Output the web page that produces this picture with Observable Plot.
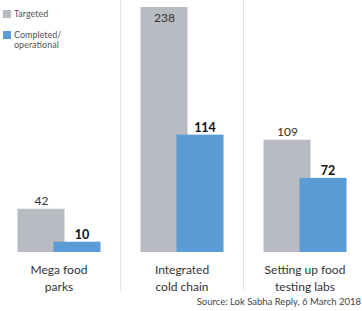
<!DOCTYPE html>
<html><head><meta charset="utf-8">
<script src="https://cdn.jsdelivr.net/npm/d3@7"></script>
<script src="https://cdn.jsdelivr.net/npm/@observablehq/plot@0.6"></script>
<style>
body{margin:0;background:#fff;font-family:Lato,"Open Sans",sans-serif;}
#wrap{position:relative;width:362px;height:311px;overflow:hidden;}
#wrap svg{position:absolute;left:0;top:0;}
.legend{position:absolute;left:3px;font-size:9px;color:#555;line-height:10px;}
.legend .sw{position:absolute;left:0;top:1px;width:8px;height:8px;}
.legend .lb{position:absolute;left:11px;top:0;white-space:nowrap;}
#source{position:absolute;right:1px;top:296px;font-size:9.5px;color:#444;white-space:nowrap;}
</style></head><body><div id="wrap"></div>
<script>
const categories = ["Mega food\nparks", "Integrated\ncold chain", "Setting up food\ntesting labs"];
const series = ["Targeted", "Completed/\noperational"];
const targeted = [42, 238, 109];
const completed = [10, 114, 72];
const colors = ["#b9bbc2", "#5b9bd6"];
const sourceText = "Source: Lok Sabha Reply, 6 March 2018";

const data = categories.flatMap((c, i) => [
  {category: c, series: series[0], value: targeted[i]},
  {category: c, series: series[1], value: completed[i]}
]);
const tData = data.filter(d => d.series === series[0]);
const cData = data.filter(d => d.series === series[1]);
const maxV = d3.max(targeted);

const plot = Plot.plot({
  width: 362, height: 311,
  marginTop: 7, marginBottom: 59, marginLeft: -4, marginRight: -4,
  style: {fontFamily: "Lato, 'Open Sans', sans-serif", background: "transparent"},
  fx: {domain: categories, padding: 0, axis: null, label: null},
  x: {domain: series, paddingInner: 0, paddingOuter: 0.2865, axis: null},
  y: {domain: [0, maxV], axis: null},
  color: {domain: series, range: colors},
  marks: [
    Plot.frame({anchor: "left", stroke: "#e4e4e4", insetTop: -7, insetBottom: -38}),
    Plot.barY(tData, {fx: "category", x: "series", y: "value", fill: "series", dx: 5.5}),
    Plot.barY(cData, {fx: "category", x: "series", y: "value", fill: "series", dx: -5.5}),
    Plot.text(tData.filter(d => d.value < maxV), {fx: "category", x: "series", y: "value", text: d => String(d.value), dx: 5.5, dy: -4, lineAnchor: "bottom", fontSize: 12, fill: "#333"}),
    Plot.text(tData.filter(d => d.value === maxV), {fx: "category", x: "series", y: "value", text: d => String(d.value), dx: 5.5, dy: 6, lineAnchor: "top", fontSize: 12, fill: "#333"}),
    Plot.text(cData, {fx: "category", x: "series", y: "value", text: d => String(d.value), dx: -1, dy: -3, lineAnchor: "bottom", fontSize: 12.5, fontWeight: "bold", fill: "#111"}),
    Plot.text(categories, {fx: d => d, text: d => d, frameAnchor: "bottom", lineAnchor: "top", dy: 9, fontSize: 12, lineHeight: 1.45, fill: "#333"})
  ]
});
const wrap = document.getElementById("wrap");
wrap.appendChild(plot);

[{s: series[0], c: colors[0], top: 9}, {s: series[1], c: colors[1], top: 30}].forEach(l => {
  const d = document.createElement("div");
  d.className = "legend";
  d.style.top = l.top + "px";
  d.innerHTML = `<div class="sw" style="background:${l.c}"></div><div class="lb">${l.s.replace("\n", "<br>")}</div>`;
  wrap.appendChild(d);
});
const src = document.createElement("div");
src.id = "source";
src.textContent = sourceText;
wrap.appendChild(src);
</script></body></html>
